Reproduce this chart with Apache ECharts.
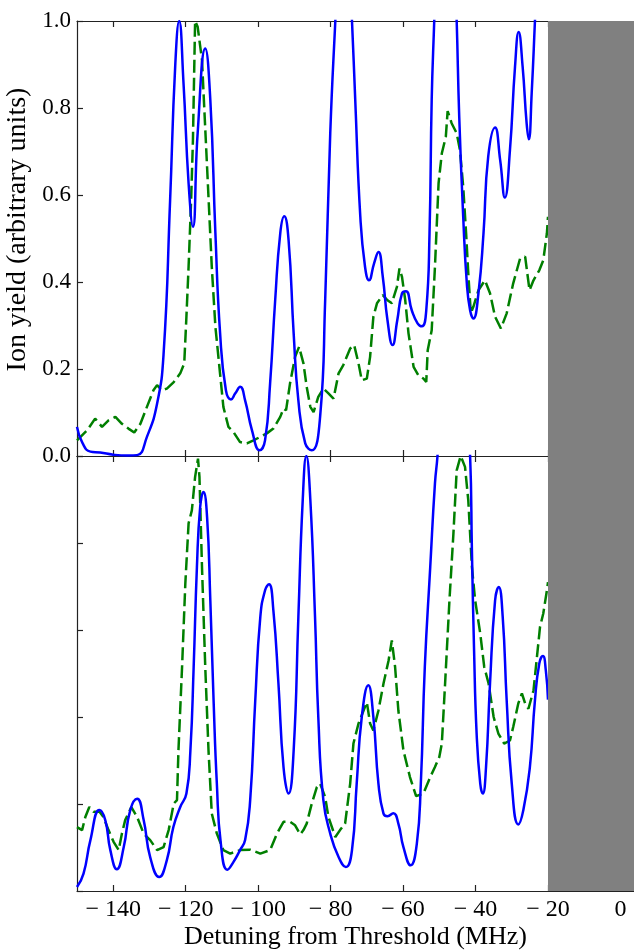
<!DOCTYPE html>
<html>
<head>
<meta charset="utf-8">
<script src="https://cdn.jsdelivr.net/npm/echarts@6/dist/echarts.min.js"></script>
<style>
html,body{margin:0;padding:0;background:#fff;}
#chart{width:634px;height:950px;}
</style>
</head>
<body>
<div id="chart"></div>
<script>
// ---- data (MHz, arbitrary units) ----
const xTicks = [-140, -120, -100, -80, -60, -40, -20, 0];
const yTicks = [0, 0.2, 0.4, 0.6, 0.8, 1.0];
const shadeFrom = -20;

const topBlue = [[-150,0.067],[-148.5,0.03],[-146.3,0.01],[-143.6,0.008],[-140,0.003],[-136,0.001],[-133.4,0.002],[-130.7,0.044],[-127.9,0.12],[-126.1,0.235],[-124.3,0.588],[-122.9,0.895],[-121.8,1.0],[-120.6,0.857],[-119.2,0.627],[-118.0,0.527],[-116.7,0.742],[-114.6,0.937],[-113.2,0.818],[-111.8,0.512],[-110.5,0.282],[-108.9,0.151],[-107.5,0.13],[-106.3,0.144],[-104.95,0.159],[-103.6,0.128],[-101.7,0.059],[-99.6,0.013],[-98.1,0.036],[-96.7,0.167],[-95.3,0.358],[-93.9,0.512],[-92.8,0.551],[-91.6,0.496],[-90.2,0.282],[-88.9,0.128],[-87.0,0.029],[-85.2,0.013],[-82.9,0.09],[-81.5,0.358],[-80.1,0.742],[-78.7,1.0],[-77.6,1.18],[-76.4,1.25],[-75.2,1.18],[-74.1,1.0],[-73.2,0.818],[-71.8,0.55],[-70.5,0.435],[-69.4,0.404],[-68.0,0.443],[-66.8,0.469],[-65.6,0.412],[-64.3,0.312],[-62.9,0.255],[-61.6,0.312],[-60.3,0.374],[-59.2,0.379],[-57.6,0.335],[-56.0,0.305],[-54.8,0.298],[-53.6,0.335],[-52.7,0.512],[-52.1,0.818],[-51.4,1.0],[-50.2,1.3],[-48.3,1.45],[-46.4,1.3],[-45.2,1.0],[-44.5,0.78],[-43.4,0.55],[-42.4,0.397],[-41.5,0.335],[-40.6,0.316],[-39.2,0.374],[-37.8,0.512],[-36.5,0.688],[-34.6,0.755],[-33.2,0.68],[-31.9,0.594],[-30.5,0.703],[-29.1,0.895],[-28.1,0.975],[-27.0,0.895],[-25.9,0.765],[-25.3,0.728],[-24.5,0.834],[-23.6,1.0],[-22.3,1.25],[-20,1.4]];

const topGreen = [[-150,0.036],[-147.2,0.059],[-145,0.086],[-143.1,0.067],[-141.3,0.082],[-139.4,0.09],[-137.6,0.074],[-135.8,0.063],[-134.2,0.054],[-132.5,0.074],[-130.7,0.113],[-128.9,0.151],[-127.9,0.163],[-126.6,0.151],[-125.2,0.155],[-123.3,0.17],[-121.5,0.19],[-120.4,0.213],[-119.8,0.32],[-119.2,0.435],[-118.5,0.588],[-118.0,0.726],[-117.4,1.0],[-116.7,0.987],[-115.5,0.91],[-114.1,0.665],[-112.8,0.435],[-111.8,0.297],[-110.7,0.205],[-109.6,0.113],[-108.2,0.067],[-106.8,0.055],[-105.0,0.032],[-103.1,0.029],[-101.3,0.036],[-99.4,0.044],[-97.6,0.052],[-95.8,0.063],[-93.9,0.09],[-93.0,0.109],[-92.3,0.105],[-91.2,0.167],[-89.8,0.228],[-88.7,0.251],[-87.5,0.213],[-86.6,0.159],[-85.6,0.113],[-84.7,0.101],[-83.4,0.136],[-82.0,0.155],[-80.6,0.144],[-79.2,0.132],[-77.8,0.19],[-76.5,0.209],[-74.6,0.247],[-73.5,0.255],[-72.3,0.213],[-71.4,0.174],[-70.0,0.178],[-69.1,0.228],[-68.2,0.32],[-67.2,0.351],[-65.6,0.37],[-64.3,0.358],[-63.1,0.351],[-61.7,0.389],[-61.0,0.431],[-60.3,0.412],[-59.4,0.358],[-58.5,0.282],[-57.1,0.205],[-55.8,0.186],[-54.4,0.178],[-53.6,0.17],[-53.2,0.243],[-52.1,0.289],[-51.2,0.435],[-50.2,0.627],[-49.3,0.696],[-48.2,0.734],[-47.7,0.793],[-46.6,0.765],[-45.2,0.742],[-44.3,0.703],[-43.4,0.619],[-42.6,0.512],[-42.0,0.42],[-41.3,0.328],[-40.6,0.343],[-39.2,0.381],[-37.4,0.404],[-36.0,0.374],[-34.6,0.32],[-33.0,0.293],[-31.4,0.328],[-29.6,0.397],[-27.7,0.454],[-26.3,0.458],[-25.1,0.381],[-24.0,0.404],[-22.4,0.427],[-21.3,0.45],[-20.3,0.512],[-20,0.55]];

const bottomBlue = [[-150,0.009],[-148.2,0.04],[-146.3,0.117],[-143.8,0.186],[-142.2,0.163],[-140.8,0.094],[-139.0,0.05],[-137.1,0.101],[-135.3,0.186],[-133.4,0.212],[-131.6,0.163],[-129.8,0.078],[-127.3,0.032],[-125.2,0.071],[-123.4,0.147],[-121.5,0.193],[-119.8,0.224],[-118.7,0.323],[-117.8,0.515],[-116.9,0.745],[-116.0,0.883],[-115.1,0.917],[-114.1,0.86],[-113.2,0.668],[-112.3,0.438],[-111.4,0.247],[-110.3,0.109],[-108.5,0.049],[-106.8,0.067],[-105.0,0.094],[-103.6,0.117],[-102.2,0.209],[-100.8,0.438],[-99.4,0.63],[-98.1,0.691],[-97.0,0.705],[-95.8,0.645],[-94.4,0.477],[-93.0,0.285],[-91.6,0.224],[-90.2,0.323],[-88.9,0.63],[-87.7,0.898],[-86.7,1.0],[-85.6,0.9],[-84.3,0.63],[-83.4,0.4],[-82.0,0.209],[-80.1,0.132],[-77.8,0.078],[-75.8,0.055],[-74.1,0.094],[-72.8,0.247],[-71.4,0.4],[-69.6,0.473],[-68.2,0.4],[-66.8,0.247],[-65.4,0.178],[-64.3,0.172],[-62.7,0.179],[-61.3,0.155],[-59.9,0.101],[-57.9,0.059],[-56.2,0.109],[-55.1,0.247],[-54.0,0.515],[-52.5,0.745],[-51.2,0.937],[-50.5,1.0],[-48.5,1.25],[-46,1.35],[-43.5,1.25],[-41.5,1.0],[-41.0,0.783],[-40.4,0.553],[-39.7,0.362],[-38.7,0.247],[-38.0,0.224],[-37.1,0.285],[-36.0,0.477],[-34.6,0.668],[-33.6,0.699],[-32.5,0.63],[-31.4,0.438],[-30.0,0.247],[-28.2,0.153],[-26.8,0.186],[-25.0,0.285],[-23.6,0.438],[-22.4,0.523],[-21.4,0.54],[-20.6,0.507],[-20,0.44]];

const bottomGreen = [[-150,0.147],[-148.6,0.14],[-147.7,0.17],[-146.6,0.193],[-145.4,0.182],[-143.8,0.182],[-142.7,0.17],[-141.3,0.14],[-139.9,0.113],[-138.5,0.094],[-137.6,0.132],[-136.7,0.163],[-135.0,0.193],[-133.4,0.17],[-131.6,0.132],[-129.8,0.117],[-127.9,0.094],[-126.1,0.101],[-124.7,0.14],[-123.3,0.201],[-122.4,0.209],[-122.0,0.323],[-121.0,0.515],[-120.1,0.707],[-119.2,0.845],[-118.3,0.875],[-117.4,0.952],[-116.6,0.994],[-116.2,0.952],[-115.5,0.745],[-114.6,0.515],[-113.7,0.323],[-112.8,0.178],[-111.4,0.132],[-109.6,0.094],[-107.7,0.086],[-105.0,0.094],[-102.2,0.095],[-99.4,0.086],[-96.7,0.094],[-94.8,0.132],[-93.0,0.159],[-91.2,0.159],[-89.8,0.151],[-88.4,0.13],[-87.5,0.14],[-86.6,0.155],[-85.2,0.201],[-83.8,0.239],[-82.9,0.247],[-81.5,0.216],[-80.6,0.17],[-78.7,0.124],[-77.4,0.14],[-76.0,0.155],[-74.6,0.247],[-73.7,0.339],[-72.3,0.385],[-70.9,0.415],[-70.0,0.434],[-69.1,0.385],[-68.2,0.369],[-66.8,0.415],[-65.4,0.477],[-64.0,0.53],[-63.1,0.576],[-62.2,0.515],[-61.3,0.415],[-59.9,0.323],[-58.1,0.262],[-56.4,0.218],[-54.4,0.224],[-52.5,0.262],[-51.2,0.285],[-50.0,0.308],[-49.3,0.339],[-48.4,0.477],[-47.2,0.668],[-46.1,0.822],[-45.2,0.967],[-44.1,1.0],[-42.9,0.975],[-42.0,0.898],[-41.0,0.745],[-40.1,0.668],[-38.7,0.592],[-37.6,0.515],[-36.4,0.477],[-35.0,0.4],[-33.7,0.362],[-32.1,0.339],[-30.5,0.346],[-29.6,0.377],[-28.2,0.431],[-27.2,0.454],[-26.3,0.431],[-25.4,0.419],[-24.0,0.461],[-22.2,0.607],[-21.3,0.638],[-20.3,0.691],[-20,0.71]];

// ---- chart ----
const FONT = 'Liberation Serif';
const X_MIN = -150, X_MAX = 3.74;
const axisLineStyle = {color: '#222', width: 1.2};
const chart = echarts.init(document.getElementById('chart'), null, {renderer: 'canvas'});

function xAxisDef(gridIndex, position, showLabels, showName) {
  return {
    type: 'value', gridIndex, position, min: X_MIN, max: X_MAX,
    axisLine: {show: true, onZero: false, lineStyle: axisLineStyle},
    axisTick: {show: true, inside: true, length: 6, customValues: xTicks, lineStyle: axisLineStyle},
    axisLabel: {show: showLabels, customValues: xTicks, margin: 7, fontFamily: FONT, fontSize: 24, color: '#000',
      formatter: v => v < 0 ? '\u2212 ' + Math.abs(v) : String(v)},
    splitLine: {show: false},
    name: showName ? 'Detuning from Threshold (MHz)' : '',
    nameLocation: 'middle', nameGap: 33,
    nameTextStyle: {fontFamily: FONT, fontSize: 26, color: '#000'}
  };
}
function yAxisDef(gridIndex, showLabels, showName) {
  return {
    type: 'value', gridIndex, position: 'left', min: 0, max: 1, interval: 0.2,
    axisLine: {show: true, onZero: false, lineStyle: axisLineStyle},
    axisTick: {show: true, inside: true, length: 6, lineStyle: axisLineStyle},
    axisLabel: {show: showLabels, margin: 6, fontFamily: FONT, fontSize: 23, color: '#000',
      formatter: v => v.toFixed(1)},
    splitLine: {show: false},
    name: showName ? 'Ion yield (arbitrary units)' : '',
    nameLocation: 'middle', nameGap: 44, nameRotate: 90,
    nameTextStyle: {fontFamily: FONT, fontSize: 28, color: '#000', padding: [0, 0, 0, 18]}
  };
}
function lineSeries(data, xi, yi, kind) {
  const blue = kind === 'blue';
  return {
    type: 'line', xAxisIndex: xi, yAxisIndex: yi, data, showSymbol: false, symbol: 'none',
    smooth: blue ? 0.5 : false, clip: true,
    lineStyle: blue ? {color: '#0000ff', width: 2.5} : {color: '#007f00', width: 2.5, type: [13, 5]},
    z: blue ? 4 : 3, silent: true, animation: false
  };
}
function shadeSeries(xi, yi) {
  return {
    type: 'line', xAxisIndex: xi, yAxisIndex: yi, data: [], silent: true, z: 20,
    markArea: {silent: true, z: 20, itemStyle: {color: '#808080', opacity: 1},
      data: [[{xAxis: shadeFrom}, {xAxis: X_MAX}]]}
  };
}

chart.setOption({
  animation: false,
  backgroundColor: '#fff',
  grid: [
    {left: 77, right: 0, top: 21, height: 435, containLabel: false, outerBoundsMode: 'none'},
    {left: 77, right: 0, top: 456, height: 435, containLabel: false, outerBoundsMode: 'none'}
  ],
  xAxis: [
    xAxisDef(0, 'bottom', false, false),
    xAxisDef(0, 'top', false, false),
    xAxisDef(1, 'bottom', true, true),
    xAxisDef(1, 'top', false, false)
  ],
  yAxis: [
    yAxisDef(0, true, true),
    yAxisDef(1, false, false)
  ],
  series: [
    lineSeries(topGreen, 0, 0, 'green'),
    lineSeries(topBlue, 0, 0, 'blue'),
    lineSeries(bottomGreen, 2, 1, 'green'),
    lineSeries(bottomBlue, 2, 1, 'blue'),
    shadeSeries(0, 0),
    shadeSeries(2, 1)
  ]
});
</script>
</body>
</html>
